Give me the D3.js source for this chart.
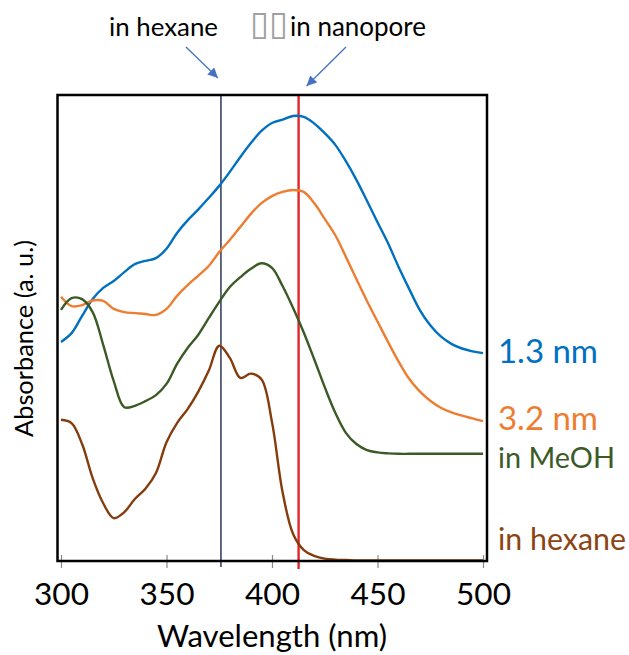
<!DOCTYPE html>
<html>
<head>
<meta charset="utf-8">
<script src="https://cdn.jsdelivr.net/npm/d3@7"></script>
<style>
  html, body { margin: 0; padding: 0; background: #fff; }
  svg { display: block; }
</style>
</head>
<body>
<svg id="chart" width="629" height="655"></svg>
<script>
// UV-vis absorbance spectra (arbitrary units), sampled every 5 nm
const wavelength = [300, 305, 310, 315, 320, 325, 330, 335, 340, 345,
                    350, 355, 360, 365, 370, 375, 380, 385, 390, 395,
                    400, 405, 410, 415, 420, 425, 430, 435, 440, 445,
                    450, 455, 460, 465, 470, 475, 480, 485, 490, 495, 500];

// dye confined in 1.3 nm pores
const pore13nm = [47.0, 48.9, 52.6, 56.2, 58.6, 60.1, 62.0, 63.7, 64.4, 65.0,
                  67.0, 70.4, 73.1, 75.4, 77.9, 80.5, 83.5, 86.7, 89.7, 92.3,
                  94.0, 94.7, 95.5, 95.3, 93.9, 91.8, 89.3, 85.8, 81.8, 77.3,
                  72.7, 68.2, 63.1, 58.4, 53.9, 50.6, 48.2, 46.6, 45.6, 45.0, 44.6];

// dye confined in 3.2 nm pores
const pore32nm = [56.7, 54.7, 54.9, 55.9, 55.8, 54.1, 53.4, 53.2, 53.0, 52.8,
                  54.1, 56.9, 59.2, 61.2, 63.3, 66.3, 68.9, 71.7, 74.5, 76.8,
                  78.3, 79.2, 79.6, 79.2, 76.8, 73.4, 69.9, 65.3, 60.5, 55.8,
                  51.4, 47.0, 42.8, 39.1, 36.4, 34.4, 32.9, 31.9, 31.2, 30.6, 30.0];

// dye in methanol solution
const inMeOH = [53.9, 56.4, 56.2, 53.4, 46.4, 38.6, 33.0, 33.3, 34.3, 35.6,
                38.0, 42.3, 45.7, 48.5, 52.1, 55.6, 58.8, 60.9, 62.7, 63.9,
                62.9, 59.0, 54.3, 49.1, 43.3, 37.3, 31.8, 27.5, 25.1, 23.8,
                23.3, 23.1, 23.0, 23.0, 23.0, 23.0, 23.0, 23.0, 23.0, 23.0, 23.0];

// dye in hexane solution
const inHexane = [30.3, 29.6, 25.1, 17.8, 12.4, 9.2, 10.5, 13.3, 15.5, 18.9,
                  25.5, 29.6, 32.6, 36.3, 40.8, 46.2, 43.6, 39.3, 40.2, 39.0,
                  29.8, 14.8, 5.8, 2.4, 1.1, 0.5, 0.3, 0.2, 0.1, 0.1,
                  0.1, 0.1, 0.1, 0.1, 0.1, 0.1, 0.1, 0.1, 0.1, 0.1, 0.1];

const xTickValues = [300, 350, 400, 450, 500];
const seriesNames = ["1.3 nm", "3.2 nm", "in MeOH", "in hexane"];

// absorption maxima marked by vertical lines (nm)
const hexanePeak = 375.8;
const nanoporePeak = 412.6;

const FONT = "Lato, 'Open Sans', 'DejaVu Sans', sans-serif";
const svg = d3.select("#chart");

const frame = { left: 57.5, right: 487, top: 95, bottom: 561 };
const x = d3.scaleLinear().domain([300, 500]).range([61, 483]);
const y = d3.scaleLinear().domain([0, 100]).range([frame.bottom, frame.top]);

// scale a text's font size so that it spans the given width
function fitWidth(sel, width) {
  const base = parseFloat(sel.attr("font-size"));
  const w = sel.node().getComputedTextLength();
  if (w > 0) sel.attr("font-size", (base * width / w).toFixed(2));
  return sel;
}

// arrowhead
svg.append("defs").append("marker")
  .attr("id", "arrowhead")
  .attr("viewBox", "0 0 10 10")
  .attr("refX", 10).attr("refY", 5)
  .attr("markerUnits", "userSpaceOnUse")
  .attr("markerWidth", 11).attr("markerHeight", 10)
  .attr("orient", "auto")
  .append("path")
  .attr("d", "M0,0 L10,5 L0,10 Z")
  .attr("fill", "#4472C4");

// vertical peak markers
svg.append("line")
  .attr("x1", x(hexanePeak)).attr("x2", x(hexanePeak))
  .attr("y1", frame.top).attr("y2", frame.bottom + 6)
  .attr("stroke", "#1b2a4a").attr("stroke-width", 1.4);
svg.append("line")
  .attr("x1", x(nanoporePeak)).attr("x2", x(nanoporePeak))
  .attr("y1", frame.top).attr("y2", frame.bottom + 8)
  .attr("stroke", "#e0262a").attr("stroke-width", 2.4);

// x axis ticks, crossing the bottom frame line
const xAxis = d3.axisBottom(x).tickValues(xTickValues).tickSize(7).tickFormat(d3.format("d"));
const gx = svg.append("g").attr("transform", `translate(0,${frame.bottom})`).call(xAxis);
gx.select(".domain").remove();
gx.selectAll(".tick line").attr("y1", -6).attr("y2", 7).attr("stroke", "#8a8a8a").attr("stroke-width", 1.2);
gx.selectAll(".tick text")
  .attr("y", 44).attr("dy", null)
  .attr("fill", "#000")
  .attr("font-family", FONT)
  .attr("font-size", 34)
  .each(function () { fitWidth(d3.select(this), 55); });

// spectra
const colors = ["#0070C0", "#ED7D31", "#3B5A26", "#843C0C"];
const labelColors = ["#0070C0", "#ED7D31", "#3B5A26", "#8B4513"];
const allSeries = [pore13nm, pore32nm, inMeOH, inHexane];

const line = d3.line()
  .x((d, i) => x(wavelength[i]))
  .y(d => y(d))
  .curve(d3.curveCatmullRom.alpha(0.5));

svg.append("g").selectAll("path")
  .data(allSeries)
  .join("path")
  .attr("d", d => line(d))
  .attr("fill", "none")
  .attr("stroke", (d, i) => colors[i])
  .attr("stroke-width", 2.4)
  .attr("stroke-linejoin", "round");

// plot frame
svg.append("rect")
  .attr("x", frame.left).attr("y", frame.top)
  .attr("width", frame.right - frame.left).attr("height", frame.bottom - frame.top)
  .attr("fill", "none").attr("stroke", "#000").attr("stroke-width", 2.5);

// series labels on the right
const labelBaselines = [363, 430, 468, 550];
const labelWidths = [100, 100, 117, 128];
seriesNames.forEach((name, i) => {
  const t = svg.append("text")
    .attr("x", 498).attr("y", labelBaselines[i])
    .attr("fill", labelColors[i])
    .attr("font-family", FONT)
    .attr("font-size", 32)
    .text(name);
  fitWidth(t, labelWidths[i]);
});

// axis titles
fitWidth(svg.append("text")
  .attr("x", 272).attr("y", 647)
  .attr("text-anchor", "middle")
  .attr("font-family", FONT).attr("font-size", 30)
  .attr("fill", "#000")
  .text("Wavelength (nm)"), 230);

fitWidth(svg.append("text")
  .attr("transform", "translate(33,338.5) rotate(-90)")
  .attr("text-anchor", "middle")
  .attr("font-family", FONT).attr("font-size", 27)
  .attr("fill", "#000")
  .text("Absorbance (a. u.)"), 197);

// annotations above the plot
fitWidth(svg.append("text")
  .attr("x", 109).attr("y", 36)
  .attr("font-family", FONT).attr("font-size", 27)
  .attr("fill", "#000")
  .text("in hexane"), 109);

fitWidth(svg.append("text")
  .attr("x", 250).attr("y", 35)
  .attr("font-family", "'DejaVu Sans', sans-serif").attr("font-size", 24)
  .attr("fill", "#a0a0a0")
  .text("\u25AF\u25AF"), 38);

fitWidth(svg.append("text")
  .attr("x", 290).attr("y", 36)
  .attr("font-family", FONT).attr("font-size", 27)
  .attr("fill", "#000")
  .text("in nanopore"), 136);

svg.append("line")
  .attr("x1", 186).attr("y1", 47)
  .attr("x2", x(hexanePeak) - 3).attr("y2", 78)
  .attr("stroke", "#4472C4").attr("stroke-width", 1.3)
  .attr("marker-end", "url(#arrowhead)");

svg.append("line")
  .attr("x1", 346).attr("y1", 47)
  .attr("x2", x(nanoporePeak) + 8).attr("y2", 86)
  .attr("stroke", "#4472C4").attr("stroke-width", 1.3)
  .attr("marker-end", "url(#arrowhead)");
</script>
</body>
</html>
